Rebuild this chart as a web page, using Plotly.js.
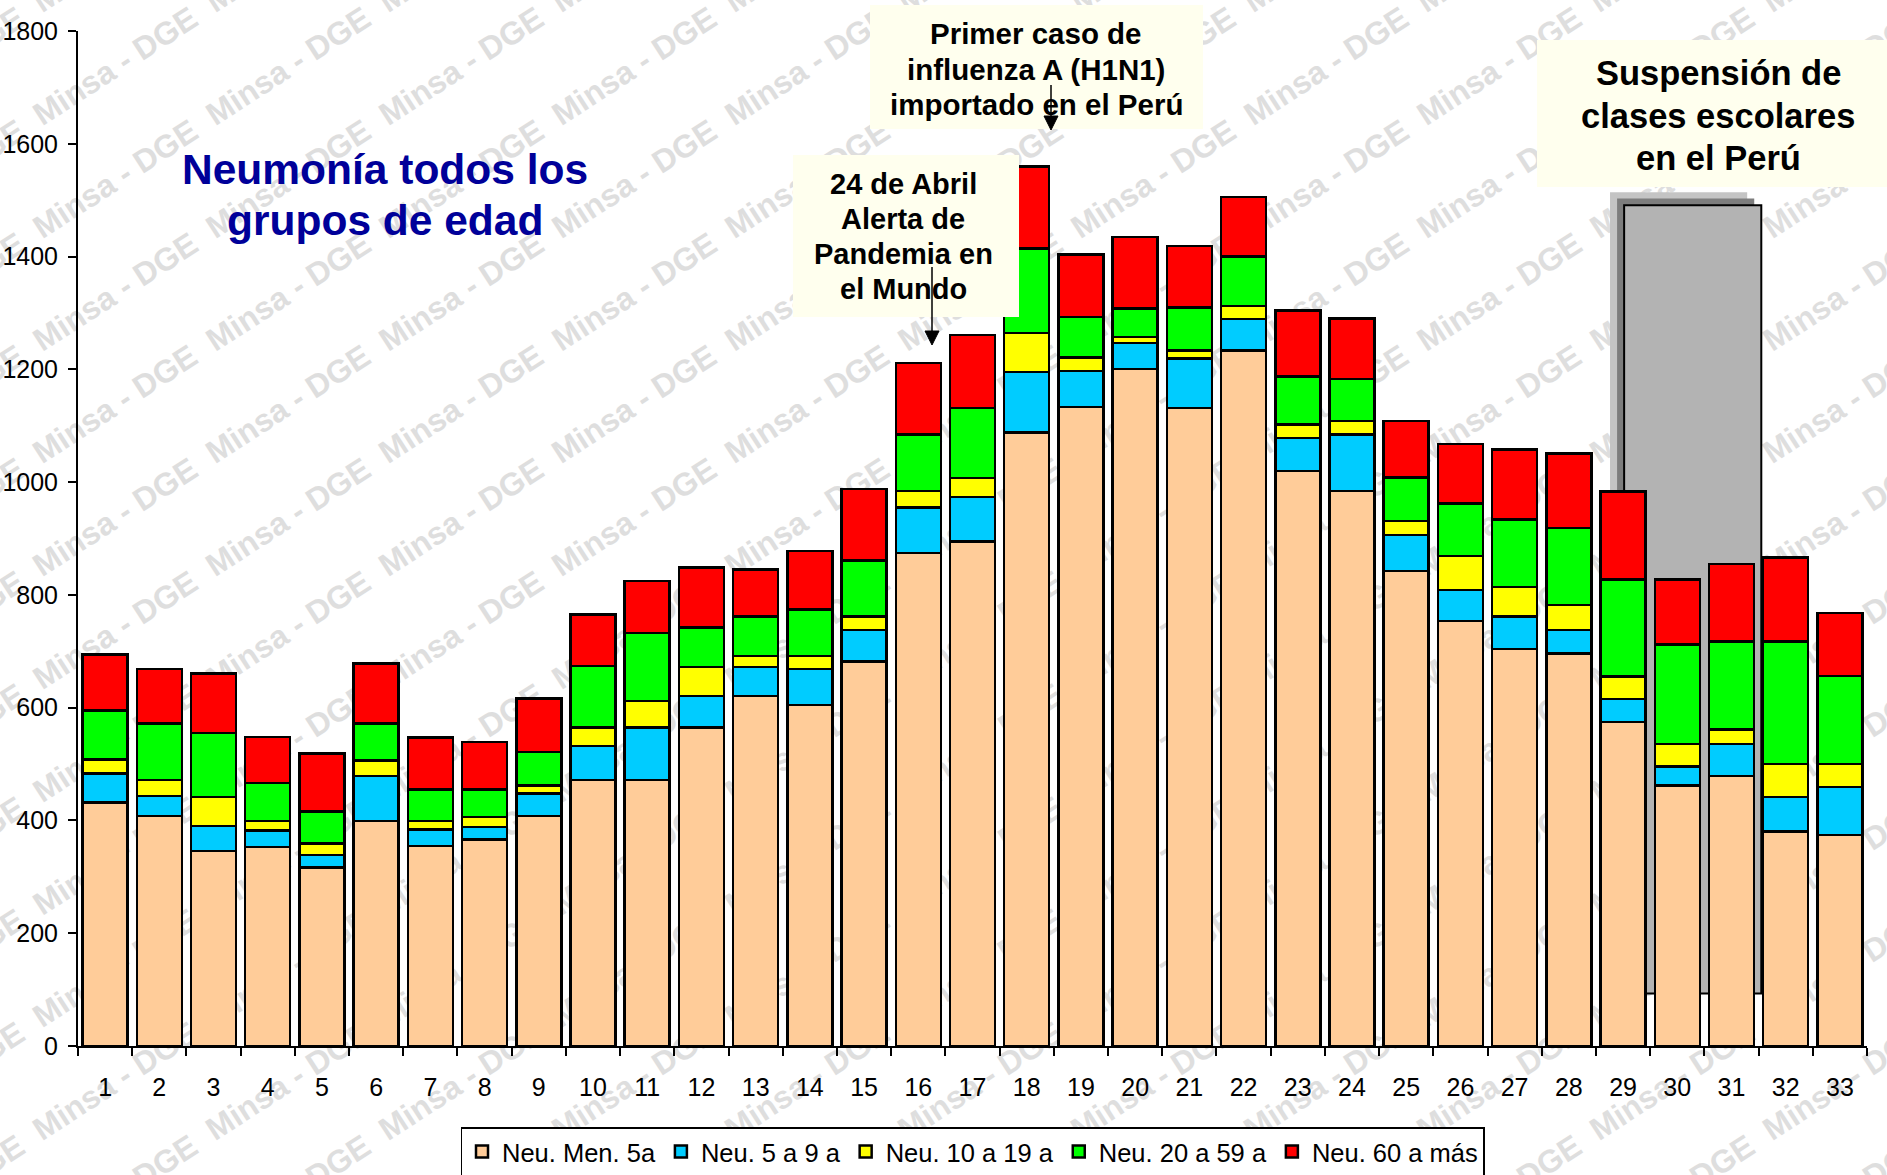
<!DOCTYPE html>
<html>
<head>
<meta charset="utf-8">
<script src="https://cdn.plot.ly/plotly-3.0.1.min.js"></script>
<style>
  html, body { margin: 0; padding: 0; background: #ffffff; }
  #wrap { position: relative; width: 1887px; height: 1175px; }
  #bg, #chart { position: absolute; left: 0; top: 0; width: 1887px; height: 1175px; }
</style>
</head>
<body>
<div id="wrap"><div id="bg"></div><div id="chart"></div></div>
<script>
// ---- Data ----
const weeks = ["1","2","3","4","5","6","7","8","9","10","11","12","13","14","15","16","17","18","19","20","21","22","23","24","25","26","27","28","29","30","31","32","33"];
const seriesNames = ["Neu. Men. 5a", "Neu. 5 a 9 a", "Neu. 10 a 19 a", "Neu. 20 a 59 a", "Neu. 60 a más"];
const menores5 = [432,408,346,353,317,399,355,366,408,472,472,565,621,605,682,874,895,1088,1133,1201,1131,1233,1020,984,842,754,704,696,575,462,479,380,374];
const de5a9    = [51,35,44,29,22,80,29,22,40,60,93,56,51,64,56,81,79,107,64,46,88,56,58,100,64,55,58,42,40,34,57,62,85];
const de10a19  = [25,29,52,17,20,27,15,18,14,33,47,51,20,23,24,29,33,69,24,10,14,23,24,24,25,60,52,44,40,40,25,58,41];
const de20a59  = [87,100,113,67,57,66,56,49,59,109,120,70,70,82,99,100,124,150,72,51,77,88,85,75,77,93,120,137,172,176,156,217,156];
const de60mas  = [99,97,106,82,103,106,92,84,95,91,93,107,83,104,127,127,130,146,111,127,109,106,117,107,100,106,124,132,156,115,138,149,112];
const yTicks = [0,200,400,600,800,1000,1200,1400,1600,1800];

const titleLines = ["Neumonía todos los", "grupos de edad"];
const note1Lines = ["Primer caso de", "influenza A (H1N1)", "importado en el Perú"];
const note2Lines = ["24 de Abril", "Alerta de", "Pandemia en", "el Mundo"];
const note3Lines = ["Suspensión de", "clases escolares", "en el Perú"];
const watermarkText = "Minsa - DGE";

// ---- Styling ----
const colors = ["#FFCC99", "#00CCFF", "#FFFF00", "#00FF00", "#FF0000"];
const FONT = "Arial, 'Liberation Sans', sans-serif";
const W = 1887, H = 1175;
const M = {l: 78, r: 20, t: 31, b: 129, autoexpand: false};
const plotW = W - M.l - M.r, plotH = H - M.t - M.b;
const px = X => (X - M.l) / plotW;           // pixel -> paper x
const py = Y => (H - M.b - Y) / plotH;       // pixel -> paper y

// ---- background watermark (separate Plotly layer behind the chart) ----
const wm = [];
for (let i = -1; i <= 11; i++) {
  for (let j = -1; j <= 10; j++) {
    const X = 115 + 173 * i, Y = 66 + 112.8 * j;
    wm.push({
      xref: "paper", yref: "paper", x: px(X), y: py(Y),
      xanchor: "center", yanchor: "middle", showarrow: false,
      text: "<b>" + watermarkText + "</b>", textangle: -33,
      font: {family: FONT, size: 32, color: "#dedede"}
    });
  }
}
Plotly.newPlot("bg", [], {
  width: W, height: H, margin: M,
  paper_bgcolor: "#ffffff", plot_bgcolor: "#ffffff",
  xaxis: {visible: false, range: [0, 1]}, yaxis: {visible: false, range: [0, 1]},
  showlegend: false, annotations: wm
}, {staticPlot: true, displayModeBar: false});

// ---- main chart ----
const values = [menores5, de5a9, de10a19, de20a59, de60mas];
const traces = values.map((v, i) => ({
  type: "bar",
  name: seriesNames[i],
  x: weeks,
  y: v,
  marker: {color: colors[i], line: {color: "#000000", width: 2.5}}
}));

const annotations = [];
const shapes = [];

function textLine(t, X, Yc, size, color) {
  return {xref: "paper", yref: "paper", x: px(X), y: py(Yc), xanchor: "center", yanchor: "middle",
    showarrow: false, text: "<b>" + t + "</b>", font: {family: FONT, size: size, color: color}};
}

// title
[169, 220].forEach((Y, k) => annotations.push(textLine(titleLines[k], 385, Y, 42.5, "#000099")));

// note boxes
function box(x0, x1, y0, y1) {
  return {type: "rect", xref: "paper", yref: "paper", x0: px(x0), x1: px(x1), y0: py(y0), y1: py(y1),
    fillcolor: "#FFFFEE", line: {width: 0}, layer: "above"};
}
shapes.push(box(870, 1203, 5, 129));
shapes.push(box(793, 1019, 155, 317));
shapes.push(box(1537, 1895, 40, 187));

[33, 69, 104].forEach((Y, k) => annotations.push(textLine(note1Lines[k], 1036, Y, 29.5, "#000000")));
[184, 219, 254, 289].forEach((Y, k) => annotations.push(textLine(note2Lines[k], 903, Y, 29, "#000000")));
[73, 116, 158].forEach((Y, k) => annotations.push(textLine(note3Lines[k], 1718, Y, 34.5, "#000000")));

// arrows
function arrow(X, yTail, yTip) {
  shapes.push({type: "line", xref: "paper", yref: "paper", x0: px(X), x1: px(X), y0: py(yTail), y1: py(yTip - 12),
    line: {color: "#000000", width: 1.5}, layer: "above"});
  shapes.push({type: "path", xref: "paper", yref: "paper",
    path: `M ${px(X - 7)} ${py(yTip - 14)} L ${px(X + 7)} ${py(yTip - 14)} L ${px(X)} ${py(yTip)} Z`,
    fillcolor: "#000000", line: {color: "#000000", width: 1}, layer: "above"});
}
arrow(1051, 85, 130);
arrow(932, 267, 345);

// school-suspension gray box (behind bars), with offset shadows
shapes.push({type: "rect", xref: "x", yref: "y", x0: 27.76, x1: 30.29, y0: 116, y1: 1514,
  fillcolor: "#c4c4c4", line: {width: 0}, layer: "below"});
shapes.push({type: "rect", xref: "x", yref: "y", x0: 27.89, x1: 30.42, y0: 105, y1: 1503,
  fillcolor: "#7d7d7d", line: {width: 0}, layer: "below"});
shapes.push({type: "rect", xref: "x", yref: "y", x0: 28.02, x1: 30.55, y0: 93, y1: 1491,
  fillcolor: "#b3b3b3", line: {color: "#000000", width: 2}, layer: "below"});

const layout = {
  width: W, height: H,
  margin: M,
  paper_bgcolor: "rgba(0,0,0,0)", plot_bgcolor: "rgba(0,0,0,0)",
  barmode: "stack", bargap: 0.17,
  font: {family: FONT, color: "#000000"},
  showlegend: true,
  legend: {orientation: "h", x: 0.5, xanchor: "center", y: py(1127), yanchor: "top",
    traceorder: "normal", font: {family: FONT, size: 25.5, color: "#000000"},
    bordercolor: "#000000", borderwidth: 1.5, bgcolor: "#ffffff", itemwidth: 30},
  xaxis: {type: "category", tickson: "boundaries", ticks: "outside", ticklen: 8, tickwidth: 2,
    tickcolor: "#000000", showline: true, linecolor: "#000000", linewidth: 2, showgrid: false,
    tickfont: {family: FONT, size: 25, color: "#000000"}, ticklabelstandoff: 18, fixedrange: true},
  yaxis: {range: [0, 1800], tickvals: yTicks, ticks: "outside", ticklen: 8, tickwidth: 2,
    tickcolor: "#000000", showline: true, linecolor: "#000000", linewidth: 2, showgrid: false,
    zeroline: false, tickfont: {family: FONT, size: 25, color: "#000000"}, ticklabelstandoff: 5, fixedrange: true},
  shapes: shapes,
  annotations: annotations
};

Plotly.newPlot("chart", traces, layout, {staticPlot: true, displayModeBar: false});
</script>
</body>
</html>
